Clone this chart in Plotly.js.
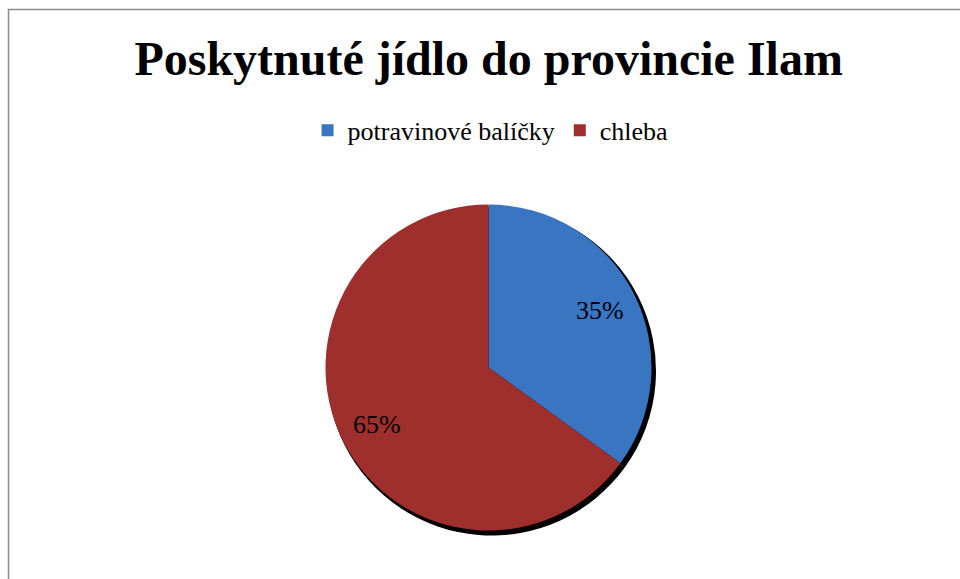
<!DOCTYPE html>
<html>
<head>
<meta charset="utf-8">
<script src="https://cdn.plot.ly/plotly-3.0.1.min.js"></script>
<style>html,body{margin:0;padding:0;background:#fff;}#chart{width:960px;height:579px;}</style>
</head>
<body>
<div id="chart"></div>
<script>
const chartTitle = "Poskytnuté jídlo do provincie Ilam";
const categories = ["potravinové balíčky", "chleba"];
const values = [35, 65];
const colors = ["#3a75c2", "#9e2f2d"];

const W = 960, H = 579;
const cx = 488.5, cy = 367.5, R = 163;
const SERIF = "Liberation Serif";
function dom(cxp, cyp, r) {
  return {
    x: [(cxp - r) / W, (cxp + r) / W],
    y: [(H - cyp - r) / H, (H - cyp + r) / H]
  };
}

const shadow = {
  type: "pie",
  values: values,
  labels: categories.map(c => c + " ."),
  sort: false,
  direction: "clockwise",
  rotation: 0,
  marker: {colors: ["#000", "#000"], line: {width: 0}},
  textinfo: "none",
  hoverinfo: "skip",
  showlegend: false,
  domain: dom(cx + 3, cy + 3.5, R + 1.5)
};

const main = {
  type: "pie",
  values: values,
  labels: categories,
  sort: false,
  direction: "clockwise",
  rotation: 0,
  marker: {colors: colors, line: {width: 0}},
  textinfo: "none",
  domain: dom(cx, cy, R)
};

// percent labels placed at each slice's mid-angle, computed from the values
const total = values.reduce((a, b) => a + b, 0);
const annotations = [];
let cum = 0;
values.forEach((v, i) => {
  const mid = (cum + v / 2) / total * 2 * Math.PI;
  cum += v;
  const rr = R * 0.77;
  const px = cx + rr * Math.sin(mid);
  const py = cy - rr * Math.cos(mid);
  annotations.push({
    xref: "paper", yref: "paper",
    x: px / W, y: (H - py) / H,
    xanchor: "center", yanchor: "middle",
    text: Math.round(v / total * 100) + "%",
    showarrow: false,
    font: {family: SERIF, size: 26, color: "#000"}
  });
});

const layout = {
  width: W, height: H,
  margin: {l: 0, r: 0, t: 0, b: 0},
  paper_bgcolor: "#fff",
  font: {family: SERIF, size: 26, color: "#000"},
  title: {
    text: "<b>" + chartTitle + "</b>",
    font: {family: SERIF, size: 48, color: "#000"},
    x: 0.509, xanchor: "center", y: 0.9, yanchor: "middle"
  },
  showlegend: true,
  legend: {
    orientation: "h",
    x: 0.511, xanchor: "center",
    y: 0.775, yanchor: "middle",
    font: {family: SERIF, size: 26, color: "#000"},
    itemwidth: 30,
    traceorder: "normal"
  },
  annotations: annotations,
  shapes: [{
    type: "rect", xref: "paper", yref: "paper",
    x0: 8.5 / W, x1: 1.05, y0: -0.05, y1: 1 - 9.5 / H,
    line: {color: "#8c8c8c", width: 1.5}
  }]
};

Plotly.newPlot("chart", [shadow, main], layout, {displayModeBar: false, staticPlot: true});
</script>
</body>
</html>
